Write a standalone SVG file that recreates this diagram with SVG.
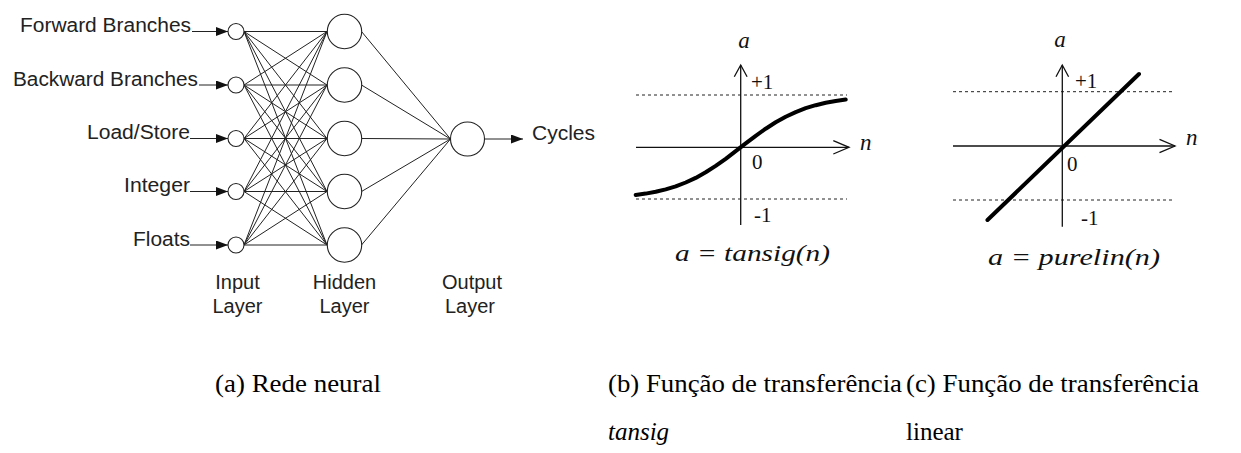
<svg xmlns="http://www.w3.org/2000/svg" width="1241" height="453" viewBox="0 0 1241 453">
<style>
.lbl{font-family:"Liberation Sans",Arial,sans-serif;font-size:20px;fill:#222}
.node{fill:#fff;stroke:#222;stroke-width:1.1}
.edge{stroke:#222;stroke-width:1;fill:none}
.ax{stroke:#111;stroke-width:1.3;fill:none}
.dot{stroke:#222;stroke-width:1;stroke-dasharray:3 3;fill:none}
.curve{stroke:#000;stroke-width:4;fill:none;stroke-linecap:round;stroke-linejoin:round}
.ser{font-family:"Liberation Serif","Times New Roman",serif;fill:#111}
.it{font-style:italic}
.cap{font-family:"Liberation Serif","Times New Roman",serif;font-size:25px;fill:#000}
</style>
<defs>
<marker id="ah" markerUnits="userSpaceOnUse" markerWidth="12" markerHeight="9" refX="12" refY="4.5" orient="auto">
<path d="M0,0 L12,4.5 L0,9 z" fill="#111"/>
</marker>
</defs>
<rect width="1241" height="453" fill="#fff"/>

<!-- connectors -->
<g id="connectors">
<line class="edge" x1="192" y1="31.5" x2="228" y2="31.5" marker-end="url(#ah)"/>
<line class="edge" x1="199" y1="85" x2="228" y2="85" marker-end="url(#ah)"/>
<line class="edge" x1="190" y1="138.5" x2="228" y2="138.5" marker-end="url(#ah)"/>
<line class="edge" x1="190" y1="191.5" x2="228" y2="191.5" marker-end="url(#ah)"/>
<line class="edge" x1="190" y1="245" x2="228" y2="245" marker-end="url(#ah)"/>
<path class="edge" d="M244,31.5 L327,31.5 M244,31.5 L327,85 M244,31.5 L327,138.5 M244,31.5 L327,191.5 M244,31.5 L327,245
M244,85 L327,31.5 M244,85 L327,85 M244,85 L327,138.5 M244,85 L327,191.5 M244,85 L327,245
M244,138.5 L327,31.5 M244,138.5 L327,85 M244,138.5 L327,138.5 M244,138.5 L327,191.5 M244,138.5 L327,245
M244,191.5 L327,31.5 M244,191.5 L327,85 M244,191.5 L327,138.5 M244,191.5 L327,191.5 M244,191.5 L327,245
M244,245 L327,31.5 M244,245 L327,85 M244,245 L327,138.5 M244,245 L327,191.5 M244,245 L327,245"/>
<path class="edge" d="M361.5,31.5 L450.5,139 M361.5,85 L450.5,139 M361.5,138.5 L450.5,139 M361.5,191.5 L450.5,139 M361.5,245 L450.5,139"/>
<line class="edge" x1="484.5" y1="139" x2="523" y2="139" marker-end="url(#ah)"/>
</g>

<!-- input nodes -->
<g id="in1"><circle class="node" cx="236" cy="31.5" r="8"/><text class="lbl" x="20" y="32" textLength="171" lengthAdjust="spacingAndGlyphs">Forward Branches</text></g>
<g id="in2"><circle class="node" cx="236" cy="85" r="8"/><text class="lbl" x="13" y="85.5" textLength="185" lengthAdjust="spacingAndGlyphs">Backward Branches</text></g>
<g id="in3"><circle class="node" cx="236" cy="138.5" r="8"/><text class="lbl" x="87" y="139" textLength="103" lengthAdjust="spacingAndGlyphs">Load/Store</text></g>
<g id="in4"><circle class="node" cx="236" cy="191.5" r="8"/><text class="lbl" x="124" y="192" textLength="66" lengthAdjust="spacingAndGlyphs">Integer</text></g>
<g id="in5"><circle class="node" cx="236" cy="245" r="8"/><text class="lbl" x="133" y="245.5" textLength="57" lengthAdjust="spacingAndGlyphs">Floats</text></g>

<!-- hidden nodes -->
<g id="h1"><circle class="node" cx="344.5" cy="31.5" r="17.2"/></g>
<g id="h2"><circle class="node" cx="344.5" cy="85" r="17.2"/></g>
<g id="h3"><circle class="node" cx="344.5" cy="138.5" r="17.2"/></g>
<g id="h4"><circle class="node" cx="344.5" cy="191.5" r="17.2"/></g>
<g id="h5"><circle class="node" cx="344.5" cy="245" r="17.2"/></g>

<!-- output node -->
<g id="out"><circle class="node" cx="467.5" cy="139" r="17"/><text class="lbl" x="532" y="140" textLength="63" lengthAdjust="spacingAndGlyphs">Cycles</text></g>

<!-- layer labels -->
<g id="layer-labels" class="lbl" text-anchor="middle">
<text x="237.5" y="289">Input</text>
<text x="237.5" y="313">Layer</text>
<text x="344.5" y="289">Hidden</text>
<text x="344.5" y="313">Layer</text>
<text x="472" y="289">Output</text>
<text x="470" y="313">Layer</text>
</g>

<!-- tansig plot -->
<g id="plot-tansig">
<line class="dot" x1="636" y1="95" x2="847" y2="95"/>
<line class="dot" x1="636" y1="199" x2="847" y2="199"/>
<line class="ax" x1="740.7" y1="65" x2="740.7" y2="225"/>
<polyline class="ax" points="734.3,76.7 740.7,65 747.1,76.7"/>
<line class="ax" x1="636" y1="147.3" x2="849" y2="147.3"/>
<polyline class="ax" points="833.3,140.7 849,147.3 833.3,154"/>
<polyline class="curve" points="635.7,195 645.7,193.6 655.7,191.8 665.7,189.4 675.7,186.4 685.7,182.5 695.7,177.9 705.7,172.3 715.7,165.9 725.7,158.8 735.7,151.2 745.7,143.4 755.7,135.8 765.7,128.7 775.7,122.3 785.7,116.7 795.7,112.1 805.7,108.2 815.7,105.2 825.7,102.8 835.7,101 845.7,99.6"/>
<text class="ser it" x="744" y="48" font-size="23" text-anchor="middle">a</text>
<text class="ser" x="751" y="89" font-size="21">+1</text>
<text class="ser" x="752" y="169" font-size="21">0</text>
<text class="ser" x="754" y="222" font-size="21">-1</text>
<text class="ser it" x="860" y="150" font-size="23">n</text>
<text class="ser it" x="675" y="261" font-size="23" textLength="155" lengthAdjust="spacingAndGlyphs">a = tansig(n)</text>
</g>

<!-- purelin plot -->
<g id="plot-purelin">
<line class="dot" x1="953" y1="91.7" x2="1173" y2="91.7"/>
<line class="dot" x1="953" y1="200" x2="1173" y2="200"/>
<line class="ax" x1="1062.3" y1="65" x2="1062.3" y2="226.7"/>
<polyline class="ax" points="1056,76.7 1062.3,65 1068.6,76.7"/>
<line class="ax" x1="953" y1="146" x2="1175" y2="146"/>
<polyline class="ax" points="1159.5,139.4 1175,146 1159.5,152.6"/>
<line class="curve" x1="987.5" y1="220" x2="1139" y2="74"/>
<text class="ser it" x="1060" y="47" font-size="23" text-anchor="middle">a</text>
<text class="ser" x="1075" y="88" font-size="21">+1</text>
<text class="ser" x="1067" y="171" font-size="21">0</text>
<text class="ser" x="1081" y="225" font-size="21">-1</text>
<text class="ser it" x="1186" y="145" font-size="23">n</text>
<text class="ser it" x="988" y="265" font-size="23" textLength="172" lengthAdjust="spacingAndGlyphs">a = purelin(n)</text>
</g>

<!-- captions -->
<g id="captions">
<text class="cap" x="215" y="392" textLength="166" lengthAdjust="spacingAndGlyphs">(a) Rede neural</text>
<text class="cap" x="608" y="392" textLength="294" lengthAdjust="spacingAndGlyphs">(b) Função de transferência</text>
<text class="cap it" x="608" y="440">tansig</text>
<text class="cap" x="906" y="392" textLength="293" lengthAdjust="spacingAndGlyphs">(c) Função de transferência</text>
<text class="cap" x="906" y="440">linear</text>
</g>
</svg>
